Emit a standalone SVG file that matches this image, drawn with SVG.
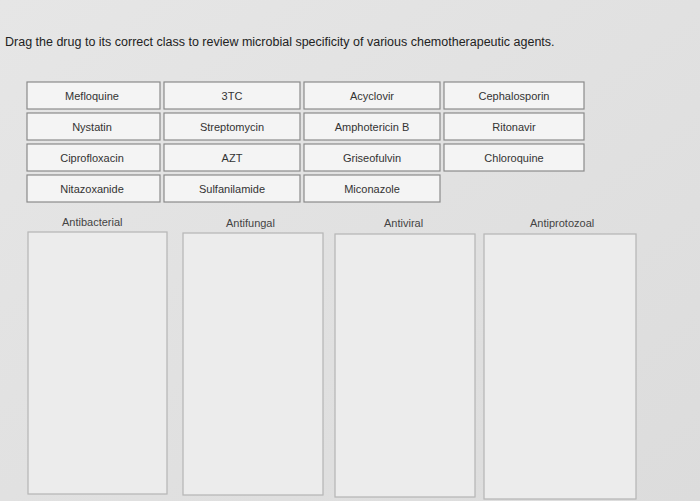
<svg xmlns="http://www.w3.org/2000/svg" width="700" height="501" viewBox="0 0 700 501">
<defs><style>
.b{fill:#f4f4f4;stroke:#8a8a8a;stroke-width:1.2}
.t{font-family:"Liberation Sans",Arial,sans-serif;font-size:11px;fill:#333;text-anchor:middle}
.h{font-family:"Liberation Sans",Arial,sans-serif;font-size:11px;fill:#444}
.z{fill:#ececec;stroke:#b5b5b5;stroke-width:1.2}
</style>
<linearGradient id="bg" x1="0" y1="0" x2="1" y2="1"><stop offset="0" stop-color="#e6e6e6"/><stop offset="1" stop-color="#dcdcdc"/></linearGradient></defs>
<rect width="700" height="501" fill="url(#bg)"/>
<text x="5" y="46" font-family="Liberation Sans,Arial,sans-serif" font-size="12.5" fill="#222">Drag the drug to its correct class to review microbial specificity of various chemotherapeutic agents.</text>
<g id="r1c1"><rect class="b" x="27" y="82" width="133" height="27"/><text class="t" x="92" y="100">Mefloquine</text></g>
<g id="r1c2"><rect class="b" x="164" y="82" width="136" height="27"/><text class="t" x="232" y="100">3TC</text></g>
<g id="r1c3"><rect class="b" x="304" y="82" width="136" height="27"/><text class="t" x="372" y="100">Acyclovir</text></g>
<g id="r1c4"><rect class="b" x="444" y="82" width="140" height="27"/><text class="t" x="514" y="100">Cephalosporin</text></g>
<g id="r2c1"><rect class="b" x="27" y="113" width="133" height="27"/><text class="t" x="92" y="131">Nystatin</text></g>
<g id="r2c2"><rect class="b" x="164" y="113" width="136" height="27"/><text class="t" x="232" y="131">Streptomycin</text></g>
<g id="r2c3"><rect class="b" x="304" y="113" width="136" height="27"/><text class="t" x="372" y="131">Amphotericin B</text></g>
<g id="r2c4"><rect class="b" x="444" y="113" width="140" height="27"/><text class="t" x="514" y="131">Ritonavir</text></g>
<g id="r3c1"><rect class="b" x="27" y="144" width="133" height="27"/><text class="t" x="92" y="162">Ciprofloxacin</text></g>
<g id="r3c2"><rect class="b" x="164" y="144" width="136" height="27"/><text class="t" x="232" y="162">AZT</text></g>
<g id="r3c3"><rect class="b" x="304" y="144" width="136" height="27"/><text class="t" x="372" y="162">Griseofulvin</text></g>
<g id="r3c4"><rect class="b" x="444" y="144" width="140" height="27"/><text class="t" x="514" y="162">Chloroquine</text></g>
<g id="r4c1"><rect class="b" x="27" y="175" width="133" height="27"/><text class="t" x="92" y="193">Nitazoxanide</text></g>
<g id="r4c2"><rect class="b" x="164" y="175" width="136" height="27"/><text class="t" x="232" y="193">Sulfanilamide</text></g>
<g id="r4c3"><rect class="b" x="304" y="175" width="136" height="27"/><text class="t" x="372" y="193">Miconazole</text></g>
<g id="antibacterial"><text class="h" x="62" y="226">Antibacterial</text><rect class="z" x="28" y="232" width="139" height="262"/></g>
<g id="antifungal"><text class="h" x="226" y="227">Antifungal</text><rect class="z" x="183" y="233" width="140" height="262"/></g>
<g id="antiviral"><text class="h" x="384" y="227">Antiviral</text><rect class="z" x="335" y="234" width="140" height="263"/></g>
<g id="antiprotozoal"><text class="h" x="530" y="227">Antiprotozoal</text><rect class="z" x="484" y="234" width="152" height="265"/></g>
<g id="connectors"/>
</svg>
